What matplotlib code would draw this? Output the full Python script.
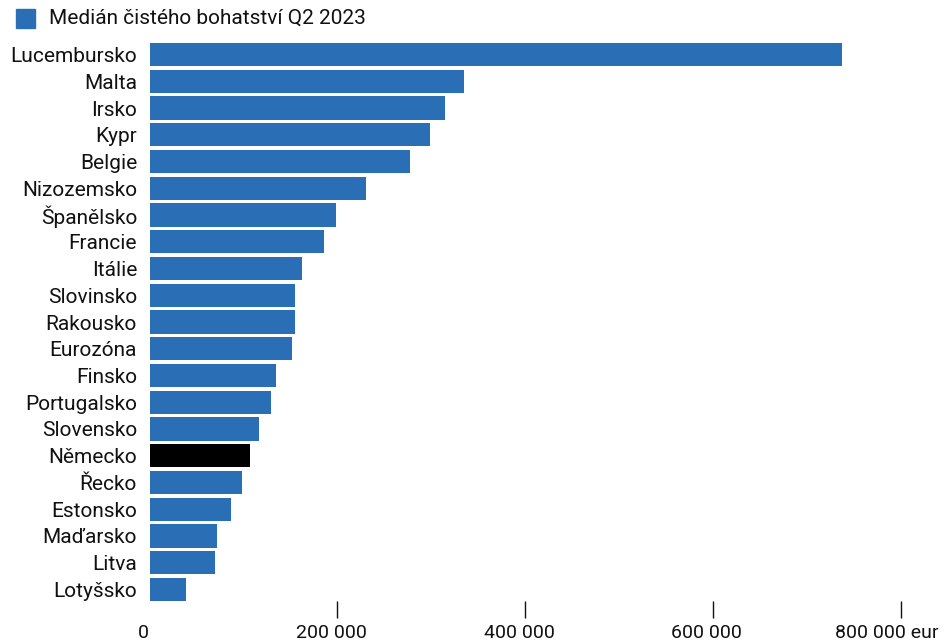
import matplotlib
matplotlib.use("Agg")
import matplotlib.pyplot as plt
import matplotlib.transforms as mtransforms
from matplotlib.patches import Rectangle

categories = ["Lucembursko", "Malta", "Irsko", "Kypr", "Belgie", "Nizozemsko",
              "Španělsko", "Francie", "Itálie", "Slovinsko", "Rakousko", "Eurozóna",
              "Finsko", "Portugalsko", "Slovensko", "Německo", "Řecko", "Estonsko",
              "Maďarsko", "Litva", "Lotyšsko"]
values = [738000, 335000, 315000, 299000, 278000, 231000,
          199000, 186000, 162000, 155000, 155000, 152000,
          135000, 129000, 117000, 107000, 99000, 87000,
          72000, 70000, 39000]
highlight = "Německo"
series_name = "Medián čistého bohatství Q2 2023"
tick_values = [0, 200000, 400000, 600000, 800000]
tick_labels = ["0", "200 000", "400 000", "600 000", "800 000 eur"]

BLUE = "#2A6EB6"
plt.rcParams['font.family'] = ['Roboto', 'DejaVu Sans']

W, H = 947, 644
fig = plt.figure(figsize=(W / 100, H / 100), dpi=100)
left = 149.5 / W
bottom = 1 - 601 / H
top = 1 - 43 / H
xmax = 800000 * (W - 149.5) / (900.5 - 149.5)
ax = fig.add_axes([left, bottom, 1 - left, top - bottom])

bh = 0.87
ypos = list(range(len(categories)))
colors = ["black" if c == highlight else BLUE for c in categories]
ax.barh(ypos, values, height=bh, color=colors)
ax.set_ylim(len(categories) - 1 + bh / 2, -bh / 2)
ax.set_xlim(0, xmax)

ax.set_yticks(ypos)
ax.set_yticklabels(categories, fontsize=15, color="#111111")
ax.tick_params(axis='y', length=0, pad=9)

ax.set_xticks(tick_values)
ax.set_xticklabels(tick_labels, fontsize=14, color="#111111")
ax.tick_params(axis='x', length=12.5, width=1, color="#111111", pad=4, direction='out')
for i, lab in enumerate(ax.get_xticklabels()):
    if i < len(tick_values) - 1:
        offset = mtransforms.ScaledTranslation(-6 / 100, 0, fig.dpi_scale_trans)
        lab.set_transform(lab.get_transform() + offset)
    else:
        lab.set_horizontalalignment('left')
        off2 = mtransforms.ScaledTranslation(-66 / 100, 0, fig.dpi_scale_trans)
        lab.set_transform(lab.get_transform() + off2)
xt = ax.xaxis.get_major_ticks()
xt[0].tick1line.set_visible(False)

for s in ax.spines.values():
    s.set_visible(False)

# legend
fig.patches.append(Rectangle((16 / W, 1 - 28 / H), 19 / W, 19 / H,
                             transform=fig.transFigure, color=BLUE))
fig.text(49 / W, 1 - 18.5 / H, series_name, fontsize=15, va='center', ha='left',
         color="#111111")

fig.savefig("out.png", dpi=100)
